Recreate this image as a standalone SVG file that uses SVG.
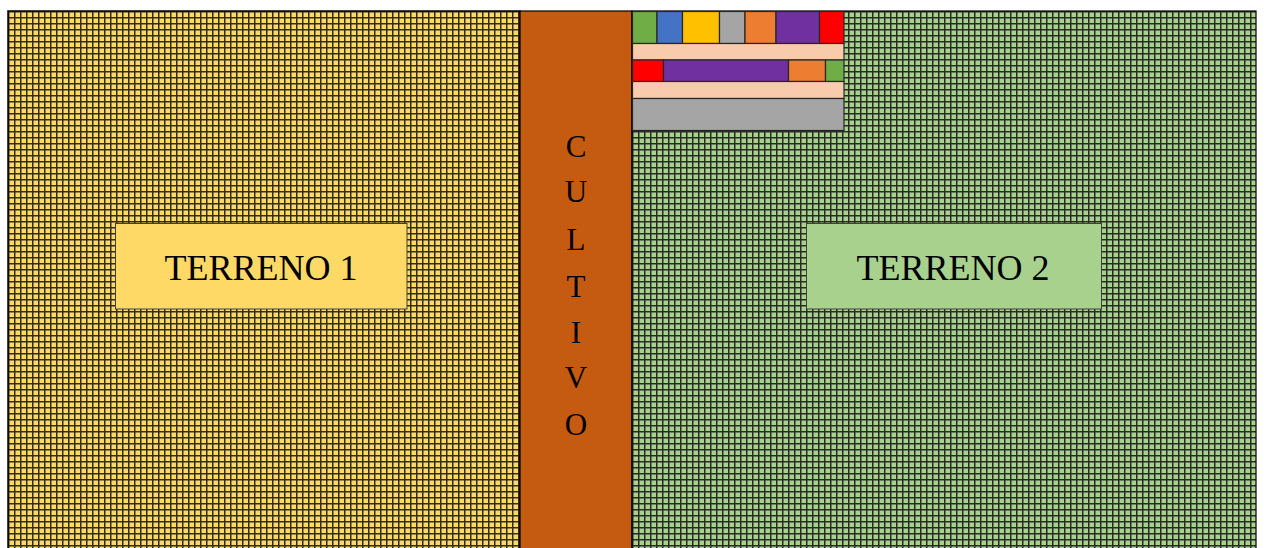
<svg xmlns="http://www.w3.org/2000/svg" width="1264" height="548" viewBox="0 0 1264 548">
<style>
.lbl{font-family:"Liberation Serif","Times New Roman",serif;fill:#000;}
.cell{stroke:#262626;stroke-width:1.2;}
</style>
<defs>
<pattern id="gy" x="8" y="11" width="6" height="6" patternUnits="userSpaceOnUse">
<rect width="6" height="6" fill="#FFD966"/>
<path d="M0 0.75H6M0.75 0V6" stroke="#1a1a1a" stroke-width="1.5" stroke-opacity="0.9"/>
</pattern>
<pattern id="gg" x="632" y="11" width="6" height="6" patternUnits="userSpaceOnUse">
<rect width="6" height="6" fill="#A9D18E"/>
<path d="M0 0.75H6M0.75 0V6" stroke="#1a1a1a" stroke-width="1.5" stroke-opacity="0.9"/>
</pattern>
</defs>
<g id="terreno1">
<rect x="8" y="11" width="512" height="540" fill="url(#gy)" stroke="#000" stroke-width="1.5"/>
<rect x="115.5" y="223.5" width="291.5" height="85.5" fill="#FFD966" stroke="#404040" stroke-width="1"/>
<text class="lbl" x="261" y="280" font-size="36" text-anchor="middle">TERRENO 1</text>
</g>
<g id="cultivo">
<rect x="520" y="11" width="112" height="540" fill="#C55A11" stroke="#000" stroke-width="1.2"/>
<g class="lbl" font-size="31" text-anchor="middle">
<text x="576" y="157">C</text>
<text x="576" y="202">U</text>
<text x="576" y="250">L</text>
<text x="576" y="297">T</text>
<text x="576" y="343">I</text>
<text x="576" y="388">V</text>
<text x="576" y="435">O</text>
</g>
</g>
<g id="terreno2">
<rect x="632" y="11" width="624" height="540" fill="url(#gg)" stroke="#000" stroke-width="1.2"/>
<rect x="806.5" y="223.5" width="295" height="85.5" fill="#A9D18E" stroke="#404040" stroke-width="1"/>
<text class="lbl" x="953" y="280" font-size="36" text-anchor="middle">TERRENO 2</text>
</g>
<g id="bloques">
<rect class="cell" x="632.5" y="11.5" width="24.5" height="32" fill="#70AD47"/>
<rect class="cell" x="657" y="11.5" width="25.5" height="32" fill="#4472C4"/>
<rect class="cell" x="682.5" y="11.5" width="37" height="32" fill="#FFC000"/>
<rect class="cell" x="719.5" y="11.5" width="25.5" height="32" fill="#A5A5A5"/>
<rect class="cell" x="745" y="11.5" width="31" height="32" fill="#ED7D31"/>
<rect class="cell" x="776" y="11.5" width="43.5" height="32" fill="#7030A0"/>
<rect class="cell" x="819.5" y="11.5" width="24.5" height="32" fill="#FF0000"/>
<rect class="cell" x="632.5" y="43.5" width="211.5" height="16.5" fill="#F8CBAD"/>
<rect class="cell" x="632.5" y="60" width="31" height="21.5" fill="#FF0000"/>
<rect class="cell" x="663.5" y="60" width="125" height="21.5" fill="#7030A0"/>
<rect class="cell" x="788.5" y="60" width="37" height="21.5" fill="#ED7D31"/>
<rect class="cell" x="825.5" y="60" width="18.5" height="21.5" fill="#70AD47"/>
<rect class="cell" x="632.5" y="81.5" width="211.5" height="17" fill="#F8CBAD"/>
<rect class="cell" x="632.5" y="98.5" width="211.5" height="32" fill="#A5A5A5"/>
</g>
</svg>
